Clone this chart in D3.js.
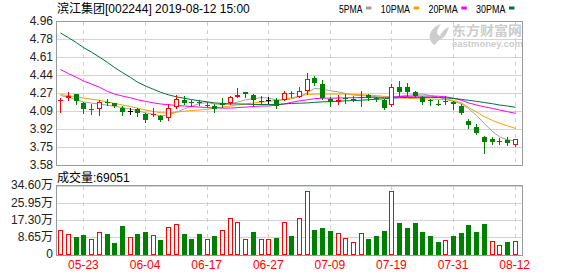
<!DOCTYPE html>
<html>
<head>
<meta charset="utf-8">
<script src="https://cdnjs.cloudflare.com/ajax/libs/d3/7.8.5/d3.min.js"></script>
<style>
  body { margin: 0; background: #fff; }
  svg { display: block; font-family: "Liberation Sans", Arial, "Noto Sans CJK SC", sans-serif; }
</style>
</head>
<body>
<script>
/* K-line chart, 滨江集团 daily */

/* Data */

const title = "滨江集团[002244] 2019-08-12 15:00";
const volTitle = "成交量";
const lastVolume = 69051;

const dates = ["05-20","05-21","05-22","05-23","05-24","05-27","05-28","05-29","05-30","05-31",
  "06-03","06-04","06-05","06-06","06-10","06-11","06-12","06-13","06-14","06-17",
  "06-18","06-19","06-20","06-21","06-24","06-25","06-26","06-27","06-28","07-01",
  "07-02","07-03","07-04","07-05","07-08","07-09","07-10","07-11","07-12","07-15",
  "07-16","07-17","07-18","07-19","07-22","07-23","07-24","07-25","07-26","07-29",
  "07-30","07-31","08-01","08-02","08-05","08-06","08-07","08-08","08-09","08-12"];

const open = [4.20,4.225,4.27,4.18,4.11,4.12,4.185,4.175,4.13,4.10,
  4.12,4.07,4.06,4.05,4.04,4.14,4.21,4.185,4.19,4.15,
  4.15,4.18,4.18,4.24,4.285,4.255,4.19,4.205,4.21,4.21,
  4.275,4.24,4.29,4.42,4.36,4.22,4.19,4.225,4.215,4.235,
  4.255,4.23,4.21,4.16,4.33,4.33,4.28,4.24,4.205,4.17,
  4.185,4.19,4.15,4.01,3.945,3.85,3.835,3.81,3.825,3.78];
const high = [4.23,4.285,4.27,4.19,4.17,4.21,4.22,4.18,4.15,4.13,
  4.13,4.08,4.13,4.06,4.17,4.26,4.25,4.21,4.21,4.19,
  4.17,4.225,4.245,4.32,4.285,4.265,4.25,4.24,4.23,4.29,
  4.295,4.335,4.47,4.44,4.40,4.24,4.26,4.27,4.25,4.29,
  4.265,4.235,4.215,4.36,4.39,4.375,4.29,4.25,4.215,4.21,
  4.25,4.20,4.17,4.03,3.975,3.86,3.85,3.84,3.855,3.83];
const low = [4.09,4.205,4.17,4.08,4.07,4.06,4.16,4.14,4.06,4.07,
  4.05,4.00,4.05,4.01,4.02,4.13,4.165,4.15,4.16,4.14,
  4.095,4.14,4.17,4.24,4.24,4.15,4.165,4.18,4.13,4.205,
  4.235,4.235,4.27,4.35,4.22,4.15,4.165,4.18,4.195,4.15,
  4.21,4.20,4.12,4.15,4.25,4.245,4.235,4.17,4.16,4.16,
  4.165,4.125,4.07,3.94,3.88,3.70,3.79,3.79,3.78,3.77];
const close = [4.21,4.245,4.20,4.12,4.12,4.19,4.18,4.15,4.09,4.10,
  4.08,4.02,4.07,4.02,4.13,4.22,4.18,4.18,4.185,4.16,
  4.125,4.155,4.235,4.26,4.265,4.21,4.20,4.205,4.15,4.275,
  4.265,4.295,4.41,4.37,4.23,4.185,4.205,4.22,4.222,4.24,
  4.23,4.215,4.13,4.33,4.285,4.28,4.245,4.19,4.195,4.165,
  4.195,4.17,4.085,3.965,3.895,3.805,3.81,3.815,3.80,3.83];

const volume = [124000,104000,90000,99000,79000,114000,105000,60000,145000,89000,
  105000,115000,99000,75000,139000,154000,105000,80000,105000,80000,
  95000,124000,184000,164000,79000,115000,79000,79000,85000,164000,
  95000,184000,321000,125000,135000,120000,109000,84000,64000,109000,
  80000,95000,120000,321000,160000,137000,160000,115000,95000,65000,
  75000,95000,110000,150000,115000,155000,70000,50000,65000,69051];
// 1 = red (up on previous close), 0 = green
const volUp = [1,1,0,0,1,1,0,0,0,1, 0,0,1,0,1,1,0,0,0,1,
  0,1,1,1,1,0,1,1,0,1, 0,1,1,0,0,0,1,1,1,1,
  0,0,0,1,0,0,0,0,0,0, 1,0,0,0,0,0,1,1,0,1];

const ma5 = [4.25,4.235,4.21,4.19,4.178,4.168,4.158,4.148,4.135,4.12,
  4.105,4.085,4.07,4.055,4.064,4.092,4.124,4.146,4.175,4.183,
  4.17,4.163,4.172,4.187,4.208,4.222,4.23,4.226,4.208,4.21,
  4.219,4.238,4.279,4.318,4.312,4.296,4.285,4.27,4.255,4.25,
  4.245,4.24,4.225,4.235,4.245,4.252,4.26,4.265,4.25,4.235,
  4.215,4.195,4.17,4.125,4.06,3.98,3.905,3.855,3.825,3.815];
const ma10 = [4.26,4.25,4.24,4.225,4.215,4.205,4.19,4.175,4.16,4.145,
  4.13,4.112,4.097,4.087,4.082,4.092,4.10,4.108,4.112,4.118,
  4.13,4.14,4.15,4.16,4.17,4.18,4.188,4.195,4.203,4.212,
  4.228,4.245,4.26,4.265,4.265,4.265,4.265,4.265,4.262,4.258,
  4.255,4.25,4.242,4.233,4.228,4.224,4.22,4.218,4.217,4.215,
  4.212,4.205,4.18,4.138,4.092,4.047,4.012,3.985,3.96,3.935];
const ma20 = [4.50,4.46,4.425,4.39,4.36,4.33,4.29,4.265,4.245,4.228,
  4.21,4.195,4.18,4.17,4.162,4.155,4.15,4.145,4.14,4.135,
  4.132,4.13,4.13,4.135,4.14,4.145,4.15,4.15,4.16,4.17,
  4.185,4.20,4.21,4.22,4.225,4.225,4.227,4.228,4.23,4.23,
  4.232,4.233,4.233,4.236,4.24,4.243,4.245,4.245,4.245,4.244,
  4.238,4.225,4.205,4.18,4.16,4.142,4.127,4.112,4.096,4.08];
const ma30 = [4.85,4.805,4.757,4.71,4.666,4.618,4.568,4.519,4.47,4.424,
  4.379,4.342,4.31,4.282,4.257,4.238,4.224,4.212,4.20,4.19,
  4.18,4.175,4.17,4.17,4.168,4.165,4.165,4.165,4.165,4.17,
  4.175,4.177,4.18,4.185,4.19,4.192,4.196,4.20,4.202,4.206,
  4.21,4.215,4.22,4.225,4.23,4.232,4.233,4.233,4.233,4.232,
  4.228,4.222,4.214,4.205,4.195,4.183,4.172,4.16,4.15,4.138];

const maNames = ["5PMA", "10PMA", "20PMA", "30PMA"];
const dateTicks = ["05-23","06-04","06-17","06-27","07-09","07-19","07-31","08-12"];
const priceLabels = ["4.96","4.78","4.61","4.44","4.27","4.09","3.92","3.75","3.58"];
const volTicks = [0, 86500, 173000, 259500, 346000];
const volLabels = ["0","8.65万","17.30万","25.95万","34.60万"];

/* Chart size */

const w = 578, h = 276;
const left = 56.5, right = 522.5;
const pTop = 21.5, pBot = 165.5;
const vTop = 185.5, vBot = 255.5;
const pMin = 3.58, pMax = 4.96;

const RED = "#ff0000", GREEN = "#008000";
const maColors = ["#a0a0a0", "#f4a300", "#ff00ff", "#00703a"];
const gridColor = "#d4d4d4", borderColor = "#9a9a9a";

/* Scales */

const x = d3.scaleBand().domain(dates).range([left, 518.5]);
const y = d3.scaleLinear().domain([pMin, pMax]).range([pBot, pTop]);
const yv = d3.scaleLinear().domain([0, 346000]).range([vBot - 0.5, vTop + 0.5]);
const col = d => Math.round(x(d) + x.bandwidth() / 2);
const crisp = v => Math.round(v - 0.5) + 0.5;

const priceTicks = priceLabels.map((_, k) => pMax - k * (pMax - pMin) / 8);

/* SVG */

const svg = d3.select("body")
  .append("svg")
  .attr("width", w)
  .attr("height", h);

/* Grid */

const grid = svg.append("g").attr("shape-rendering", "crispEdges");

grid.selectAll(".hp")
  .data(priceTicks)
  .enter()
  .append("line")
  .attr("x1", left).attr("x2", right)
  .attr("y1", d => crisp(y(d))).attr("y2", d => crisp(y(d)))
  .attr("stroke", gridColor);

grid.selectAll(".hv")
  .data(volTicks)
  .enter()
  .append("line")
  .attr("x1", left).attr("x2", right)
  .attr("y1", d => crisp(yv(d))).attr("y2", d => crisp(yv(d)))
  .attr("stroke", gridColor);

[[pTop, pBot], [vTop, vBot]].forEach(([t, b]) => {
  grid.selectAll(null)
    .data(dateTicks)
    .enter()
    .append("line")
    .attr("x1", d => col(d) + 0.5).attr("x2", d => col(d) + 0.5)
    .attr("y1", t).attr("y2", b)
    .attr("stroke", "#cfcfcf")
    .attr("stroke-dasharray", "4,4");
});

/* Watermark */

const wm = svg.append("g").attr("fill", "#cdcdcd");
wm.append("path")
  .attr("d", "M434,45 C427,39 428,29 441,24 C436,30 436,34 440,36 C442,31 446,28 449,27 C447,33 445,38 439,40 C437,42 436,44 434,45 Z");
wm.append("text")
  .attr("x", 452).attr("y", 34.5)
  .style("font-family", "'Noto Sans CJK SC', sans-serif")
  .style("font-size", "13px").style("font-weight", "bold")
  .attr("textLength", 70)
  .attr("lengthAdjust", "spacingAndGlyphs")
  .text("东方财富网");
wm.append("text")
  .attr("x", 452).attr("y", 47)
  .style("font-size", "9.5px").style("font-weight", "bold")
  .attr("textLength", 71)
  .attr("lengthAdjust", "spacingAndGlyphs")
  .text("eastmoney.com");

/* Borders */

svg.append("rect")
  .attr("x", left).attr("y", pTop)
  .attr("width", right - left).attr("height", pBot - pTop)
  .attr("fill", "none").attr("stroke", borderColor)
  .attr("shape-rendering", "crispEdges");
svg.append("rect")
  .attr("x", left).attr("y", vTop)
  .attr("width", right - left).attr("height", vBot - vTop)
  .attr("fill", "none").attr("stroke", borderColor)
  .attr("shape-rendering", "crispEdges");

/* Moving averages */

svg.append("clipPath").attr("id", "pclip")
  .append("rect").attr("x", left).attr("y", pTop).attr("width", right - left).attr("height", pBot - pTop);

const line = d3.line()
  .x((d, i) => col(dates[i]) + 0.5)
  .y(d => y(d));

[ma5, ma10, ma20, ma30].forEach((s, k) => {
  svg.append("path")
    .datum(s)
    .attr("clip-path", "url(#pclip)")
    .attr("d", line)
    .attr("fill", "none")
    .attr("stroke", maColors[k])
    .attr("stroke-width", 1);
});

/* Candles */

const candles = svg.append("g").attr("shape-rendering", "crispEdges");

dates.forEach((d, i) => {
  const c = col(d);
  const o = open[i], cl = close[i];
  const color = cl > o ? RED : cl < o ? GREEN : "#000";
  const yt = Math.round(y(Math.max(o, cl)));
  const yb = Math.round(y(Math.min(o, cl)));
  const bh = Math.max(1, yb - yt);

  candles.append("line")
    .attr("x1", c + 0.5).attr("x2", c + 0.5)
    .attr("y1", Math.round(y(high[i]))).attr("y2", Math.round(y(low[i])) + 1)
    .attr("stroke", color);

  if (cl > o && bh > 2) {
    candles.append("rect")
      .attr("x", c - 1.5).attr("y", yt + 0.5)
      .attr("width", 4).attr("height", bh - 1)
      .attr("fill", "#fff").attr("stroke", RED);
  } else {
    candles.append("rect")
      .attr("x", c - 2).attr("y", yt)
      .attr("width", 5).attr("height", bh)
      .attr("fill", color);
  }
});

/* Volume */

const vol = svg.append("g").attr("shape-rendering", "crispEdges");

vol.selectAll("rect")
  .data(volume)
  .enter()
  .append("rect")
  .attr("x", (d, i) => volUp[i] ? col(dates[i]) - 1.5 : col(dates[i]) - 2)
  .attr("y", (d, i) => Math.round(yv(d)) + (volUp[i] ? 0.5 : 0))
  .attr("width", (d, i) => volUp[i] ? 4 : 5)
  .attr("height", (d, i) => vBot - 0.5 - Math.round(yv(d)) - (volUp[i] ? 1 : 0))
  .attr("fill", (d, i) => volUp[i] ? "#fff" : GREEN)
  .attr("stroke", (d, i) => volUp[i] ? RED : "none");

/* Axes */

const yAxis = svg.append("g")
  .attr("transform", "translate(" + left + ",-1)")
  .call(d3.axisLeft(y).tickValues(priceTicks).tickFormat((d, k) => priceLabels[k]).tickSize(0).tickPadding(3.5));

const vAxis = svg.append("g")
  .attr("transform", "translate(" + left + ",-1)")
  .call(d3.axisLeft(yv).tickValues(volTicks).tickFormat((d, k) => volLabels[k]).tickSize(0).tickPadding(3.5));

const xAxis = svg.append("g")
  .attr("transform", "translate(0," + (vBot - 0.5) + ")")
  .call(d3.axisBottom(x).tickValues(dateTicks).tickSize(0).tickPadding(5));

[yAxis, vAxis, xAxis].forEach(a => {
  a.select(".domain").remove();
  a.selectAll("text")
    .style("font-family", "'Liberation Sans', Arial, 'Noto Sans CJK SC', sans-serif")
    .style("font-size", "12px");
});
yAxis.selectAll("text").attr("fill", "#222");
vAxis.selectAll("text").attr("fill", "#222");
xAxis.selectAll("text").attr("fill", RED);

/* Titles */

svg.append("text")
  .attr("x", 57).attr("y", 13)
  .style("font-size", "12px")
  .attr("fill", "#000")
  .text(title);

svg.append("text")
  .attr("x", 57).attr("y", 181.5)
  .style("font-size", "12px")
  .attr("fill", "#000")
  .text(volTitle + ":" + lastVolume);

/* Legend */

const legend = svg.append("g").attr("id", "legend");
let lx = 339;
maNames.forEach((name, k) => {
  const tw = name.length * 5.85;
  legend.append("text")
    .attr("x", lx).attr("y", 12.5)
    .style("font-size", "11px")
    .attr("textLength", tw)
    .attr("lengthAdjust", "spacingAndGlyphs")
    .attr("fill", "#000")
    .text(name);
  lx += tw + 3.6;
  legend.append("rect")
    .attr("x", lx).attr("y", 6.5)
    .attr("width", 5.5).attr("height", 3)
    .attr("fill", maColors[k]);
  lx += 5.5 + 9.3;
});
</script>
</body>
</html>
